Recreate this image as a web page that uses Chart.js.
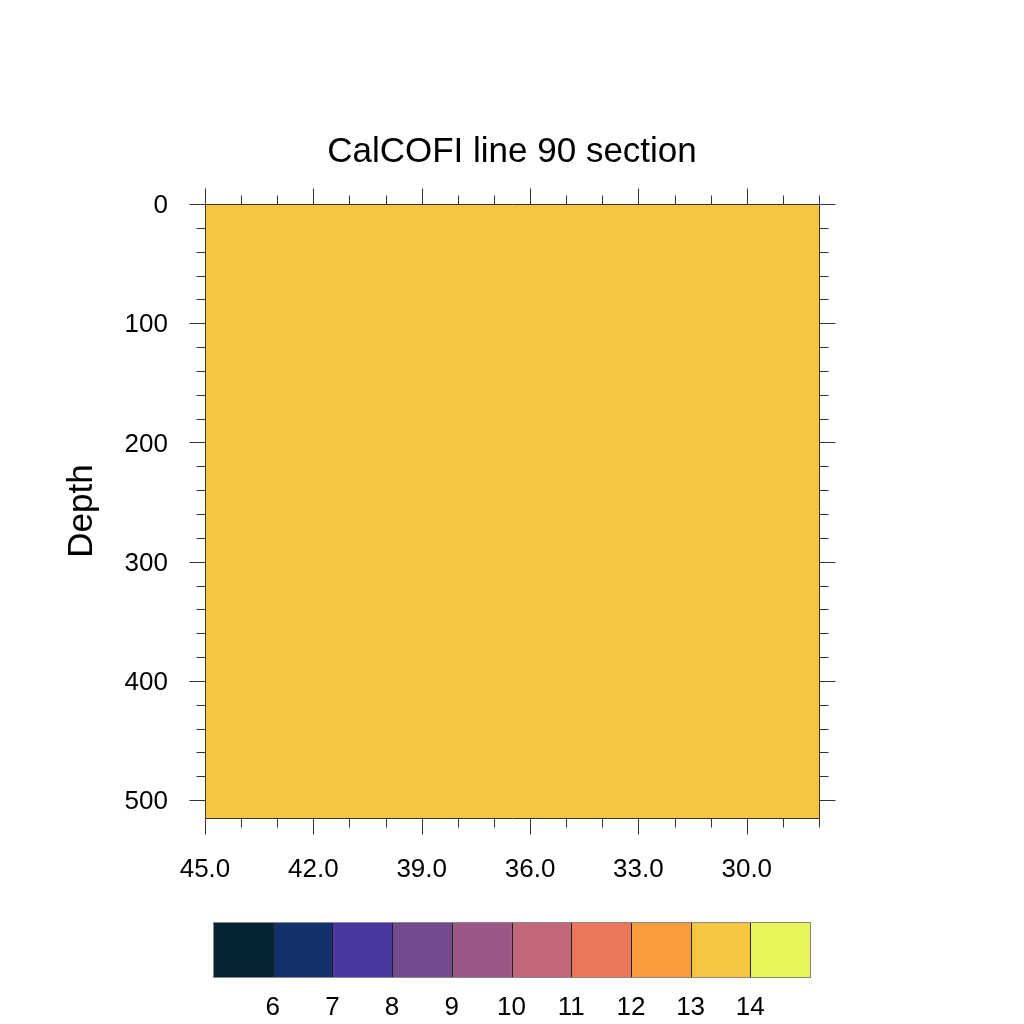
<!DOCTYPE html>
<html>
<head>
<meta charset="utf-8">
<script src="https://cdn.jsdelivr.net/npm/chart.js@4.4.1/dist/chart.umd.min.js"></script>
<style>
  html, body { margin: 0; padding: 0; background: #fff; }
  #wrap { position: relative; width: 1024px; height: 1024px; }
  #wrap canvas { position: absolute; left: 0; top: 0; }
</style>
</head>
<body>
<div id="wrap">
  <canvas id="seccion" width="1024" height="1024"></canvas>
  <canvas id="barra" width="1024" height="1024"></canvas>
</div>
<script>
// campo de temperatura (una sola celda: todo cae entre 13 y 14)
const latBordes = [45, 28];
const profBordes = [0, 515];
const temperaturas = [[13.5]];

// ejes
const xTicks = [45, 42, 39, 36, 33, 30];
const yTicks = [0, 100, 200, 300, 400, 500];

// barra de colores
const niveles = [5, 6, 7, 8, 9, 10, 11, 12, 13, 14, 15];
const nivelEtiquetas = [6, 7, 8, 9, 10, 11, 12, 13, 14];
const colores = ['#052331', '#15316D', '#4A37A0', '#734A8E', '#9A5887',
                 '#C26679', '#EA7759', '#FA9C3D', '#F6C643', '#E7F556'];

const fuente = 'Liberation Sans, Arial, Helvetica, sans-serif';

const colorDe = (v) => {
    for (let i = 0; i < colores.length; i++) {
        if (v >= niveles[i] && v < niveles[i + 1]) return colores[i];
    }
    return v < niveles[0] ? colores[0] : colores[colores.length - 1];
};

// relleno de celdas y marco con marcas
const campoPlugin = {
    id: 'campo',
    beforeDatasetsDraw(chart) {
        const { ctx, scales: { x, y } } = chart;
        ctx.save();
        for (let j = 0; j < profBordes.length - 1; j++) {
            for (let i = 0; i < latBordes.length - 1; i++) {
                const x0 = x.getPixelForValue(latBordes[i]);
                const x1 = x.getPixelForValue(latBordes[i + 1]);
                const y0 = y.getPixelForValue(profBordes[j]);
                const y1 = y.getPixelForValue(profBordes[j + 1]);
                ctx.fillStyle = colorDe(temperaturas[j][i]);
                ctx.fillRect(Math.min(x0, x1), Math.min(y0, y1), Math.abs(x1 - x0), Math.abs(y1 - y0));
            }
        }
        ctx.restore();
    },
    afterDraw(chart) {
        const { ctx, chartArea: a, scales: { x, y } } = chart;
        const mayor = 16, menor = 9;
        ctx.save();
        ctx.strokeStyle = '#333';
        ctx.lineWidth = 1;
        ctx.beginPath();
        const L = Math.round(a.left) + 0.5, R = Math.round(a.right) + 0.5;
        const T = Math.round(a.top) + 0.5, B = Math.round(a.bottom) + 0.5;
        ctx.rect(L, T, R - L, B - T);
        const marcaX = (v, len) => {
            const px = Math.round(x.getPixelForValue(v)) + 0.5;
            ctx.moveTo(px, B); ctx.lineTo(px, B + len);
            ctx.moveTo(px, T); ctx.lineTo(px, T - len);
        };
        const marcaY = (v, len) => {
            const py = Math.round(y.getPixelForValue(v)) + 0.5;
            ctx.moveTo(L, py); ctx.lineTo(L - len, py);
            ctx.moveTo(R, py); ctx.lineTo(R + len, py);
        };
        xTicks.forEach(v => marcaX(v, mayor));
        yTicks.forEach(v => marcaY(v, mayor));
        for (let v = x.min; v <= x.max; v += 1) {
            if (!xTicks.includes(v)) marcaX(v, menor);
        }
        for (let v = 0; v <= y.max; v += 20) {
            if (!yTicks.includes(v)) marcaY(v, menor);
        }
        ctx.stroke();
        ctx.restore();
    }
};

new Chart(document.getElementById('seccion'), {
    type: 'scatter',
    data: { datasets: [] },
    options: {
        responsive: false,
        animation: false,
        layout: { padding: { left: 0, right: 0, top: 131, bottom: 106 } },
        plugins: {
            legend: { display: false },
            tooltip: { enabled: false },
            title: {
                display: true,
                text: 'CalCOFI line 90 section',
                color: '#000',
                font: { family: fuente, size: 35, weight: 'normal' },
                padding: { top: 0, bottom: 31 }
            }
        },
        scales: {
            x: {
                type: 'linear',
                position: 'bottom',
                reverse: true,
                min: 28,
                max: 45,
                grid: { display: false, drawTicks: false },
                border: { display: false },
                afterBuildTicks: (s) => { s.ticks = xTicks.map(v => ({ value: v })); },
                afterFit: (s) => { s.height = 100; },
                ticks: {
                    padding: 36,
                    color: '#000',
                    maxRotation: 0,
                    autoSkip: false,
                    font: { family: fuente, size: 26 },
                    callback: (v) => Number(v).toFixed(1)
                }
            },
            y: {
                type: 'linear',
                position: 'left',
                reverse: true,
                min: 0,
                max: 515,
                grid: { display: false, drawTicks: false },
                border: { display: false },
                afterBuildTicks: (s) => { s.ticks = yTicks.map(v => ({ value: v })); },
                afterFit: (s) => { s.width = 205; },
                title: {
                    display: true,
                    text: 'Depth',
                    color: '#000',
                    font: { family: fuente, size: 35 },
                    padding: { top: 61, bottom: 0 }
                },
                ticks: {
                    padding: 37,
                    labelOffset: 2,
                    color: '#000',
                    autoSkip: false,
                    font: { family: fuente, size: 26 }
                }
            },
            // eje derecho vacío: reserva el margen para que el título quede centrado
            yDer: {
                type: 'linear',
                position: 'right',
                min: 0,
                max: 515,
                grid: { display: false, drawTicks: false },
                border: { display: false },
                ticks: { display: false },
                afterFit: (s) => { s.width = 205; }
            }
        }
    },
    plugins: [campoPlugin]
});

// separadores y marco de la barra de colores
const barraPlugin = {
    id: 'barraMarco',
    afterDatasetsDraw(chart) {
        const { ctx, chartArea: a, scales: { x } } = chart;
        ctx.save();
        ctx.lineWidth = 1;
        ctx.strokeStyle = '#222';
        ctx.beginPath();
        for (let i = 1; i < niveles.length - 1; i++) {
            const px = Math.round(x.getPixelForValue(niveles[i])) + 0.5;
            ctx.moveTo(px, a.top); ctx.lineTo(px, a.bottom);
        }
        ctx.stroke();
        ctx.strokeStyle = '#888';
        ctx.strokeRect(Math.round(a.left) + 0.5, Math.round(a.top) + 0.5,
            Math.round(a.right - a.left), Math.round(a.bottom - a.top));
        ctx.restore();
    }
};

new Chart(document.getElementById('barra'), {
    type: 'bar',
    data: {
        labels: [''],
        datasets: colores.map((c, i) => ({
            data: [[niveles[i], niveles[i + 1]]],
            backgroundColor: c,
            borderWidth: 0,
            grouped: false,
            categoryPercentage: 1,
            barPercentage: 1
        }))
    },
    options: {
        indexAxis: 'y',
        responsive: false,
        animation: false,
        layout: { padding: { left: 213, right: 214, top: 922, bottom: 0 } },
        plugins: { legend: { display: false }, tooltip: { enabled: false } },
        scales: {
            x: {
                type: 'linear',
                min: 5,
                max: 15,
                grid: { display: false, drawTicks: false },
                border: { display: false },
                afterBuildTicks: (s) => { s.ticks = nivelEtiquetas.map(v => ({ value: v })); },
                afterFit: (s) => { s.height = 47; },
                ticks: {
                    padding: 15,
                    color: '#000',
                    maxRotation: 0,
                    autoSkip: false,
                    font: { family: fuente, size: 26 }
                }
            },
            y: { display: false }
        }
    },
    plugins: [barraPlugin]
});
</script>
</body>
</html>
